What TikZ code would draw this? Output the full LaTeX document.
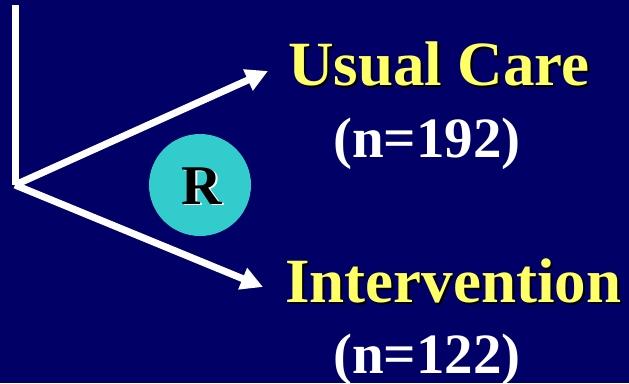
\documentclass[tikz,border=0pt]{standalone}
\usepackage{fontspec}
\setmainfont{Liberation Serif}
\usetikzlibrary{arrows.meta}
\definecolor{bg}{HTML}{000066}
\definecolor{yel}{HTML}{FFFF66}
\definecolor{teal}{HTML}{33CCCC}
\begin{document}
\begin{tikzpicture}[x=1pt,y=-1pt,
  armline/.style={draw=white,line width=7pt,-{Triangle[length=22pt,width=22pt]}},
  bigtxt/.style={inner sep=0pt,anchor=base west,font=\fontsize{63}{63}\selectfont\bfseries},
  ntxt/.style={inner sep=0pt,anchor=base west,font=\fontsize{57}{57}\selectfont\bfseries,text=white}]
\fill[bg] (0,0) rectangle (629,383);
\useasboundingbox (0,0) rectangle (629,383);
\coordinate (top) at (15,5);
\coordinate (corner) at (15,185);
\coordinate (uptip) at (268,71);
\coordinate (lowtip) at (263,287);
\draw[white,line width=7pt] (top) -- (corner);
\draw[armline] (corner) -- (uptip);
\draw[armline] (corner) -- (lowtip);
\node[circle,fill=teal,minimum size=102pt,inner sep=0pt] (rc) at (200,185) {};
\node[inner sep=0pt,font=\fontsize{56}{56}\selectfont\bfseries,text=white] (rs) at (203.5,187.5) {R};
\node[inner sep=0pt,font=\fontsize{56}{56}\selectfont\bfseries,text=black] (r) at (202,186) {R};
\node[bigtxt,text=black] (ucs) at (290,87) {Usual Care};
\node[bigtxt,text=yel] (uc) at (288,85) {Usual Care};
\node[ntxt] (n1) at (333,157) {(n=192)};
\node[bigtxt,text=black] (ivs) at (287,304) {Intervention};
\node[bigtxt,text=yel] (iv) at (285,302) {Intervention};
\node[ntxt] (n2) at (333,373) {(n=122)};
\end{tikzpicture}
\end{document}
